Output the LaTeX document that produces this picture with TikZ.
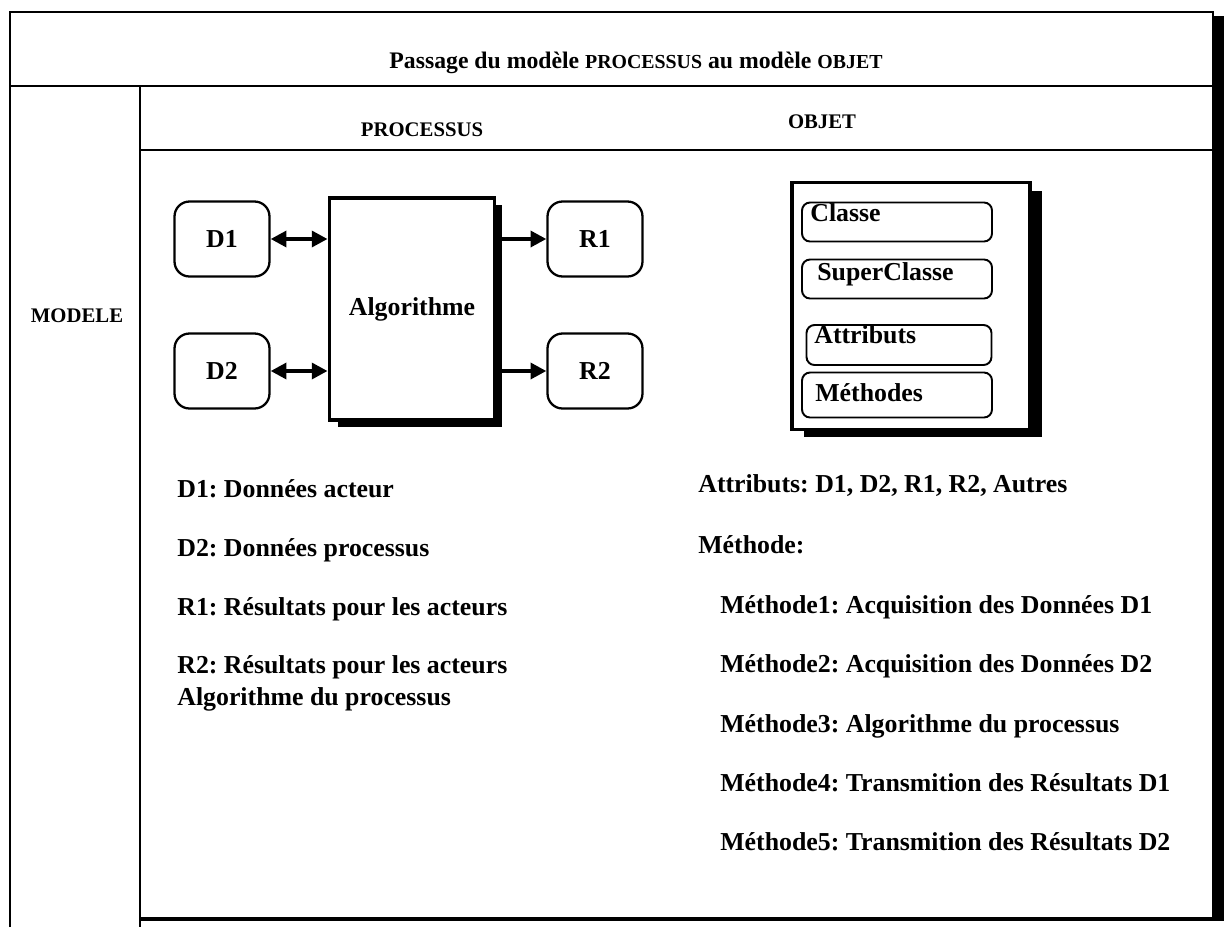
\documentclass[tikz,border=0pt]{standalone}
\usepackage{fontspec}
\setmainfont{Liberation Serif}
\usetikzlibrary{arrows.meta,shadows}
\frenchspacing

\newcommand{\titlecaps}[1]{{\fontsize{11.3}{13}\selectfont #1}}

\tikzset{
  txt/.style={inner sep=0pt, font=\bfseries\fontsize{14.7}{17}\selectfont},
  ttl/.style={inner sep=0pt, font=\bfseries\fontsize{13.5}{16}\selectfont},
  hdr/.style={inner sep=0pt, font=\bfseries\fontsize{11.8}{14}\selectfont},
  tline/.style={line width=1.2pt},
  rbox/.style={draw, line width=1.3pt, rounded corners=0.3cm, minimum width=1.9cm, minimum height=1.5cm, txt},
  slot/.style={draw, line width=1.1pt, rounded corners=0.16cm, minimum width=3.8cm, minimum height=0.78cm},
  link/.style={line width=2.2pt, -{Triangle[length=9pt,width=9pt]}},
  dlink/.style={line width=2.2pt, {Triangle[length=9pt,width=9pt]}-{Triangle[length=9pt,width=9pt]}},
}

\begin{document}
\begin{tikzpicture}[x=0.02cm,y=-0.02cm]
	\useasboundingbox (0,0) rectangle (1227,927);

	% table
	\fill (1213,16) rectangle (1224,921);
	\draw[tline] (10,927) -- (10,12) -- (1213,12) -- (1213,919);
	\draw[line width=2pt] (1213,919) -- (140,919);
	\draw[tline] (10,86) -- (1213,86);
	\draw[tline] (140,86) -- (140,927);
	\draw[tline] (140,150) -- (1213,150);

	\node[ttl, anchor=base] (title) at (636,68) {Passage du modèle \titlecaps{PROCESSUS} au modèle \titlecaps{OBJET}};
	\node[hdr, anchor=base] (hproc) at (422,136) {PROCESSUS};
	\node[hdr, anchor=base] (hobj) at (822,128) {OBJET};
	\node[hdr, anchor=base] (modele) at (77,322) {MODELE};

	% processus
	\node[rbox] (d1) at (222,239) {D1};
	\node[rbox] (d2) at (222,371) {D2};
	\node[rbox] (r1) at (595,239) {R1};
	\node[rbox] (r2) at (595,371) {R2};
	\node[draw, line width=2.2pt, fill=white, minimum width=3.3cm, minimum height=4.44cm, txt,
		drop shadow={shadow xshift=0.16cm, shadow yshift=-0.14cm, opacity=1, fill=black}] (alg) at (412,309) {Algorithme};

	\draw[dlink] (d1.east) -- (d1.east -| alg.west);
	\draw[dlink] (d2.east) -- (d2.east -| alg.west);
	\draw[link] (alg.east |- r1.west) -- (r1.west);
	\draw[link] (alg.east |- r2.west) -- (r2.west);

	% objet
	\node[draw, line width=2pt, fill=white, minimum width=4.76cm, minimum height=4.94cm,
		drop shadow={shadow xshift=0.24cm, shadow yshift=-0.16cm, opacity=1, fill=black}] (obj) at (911,306) {};
	\node[slot] (classe) at (897,222) {};
	\node[slot] (super) at (897,279) {};
	\node[slot, minimum width=3.7cm, minimum height=0.8cm] (attr) at (899,345) {};
	\node[slot, minimum height=0.9cm] (meth) at (897,395) {};
	\node[txt, anchor=west] (lclasse) at (810,213) {Classe};
	\node[txt, anchor=west] (lsuper) at (817,274) {SuperClasse};
	\node[txt, anchor=west] (lattr) at (814,335) {Attributs};
	\node[txt, anchor=west] (lmeth) at (815,393) {Méthodes};

	% legende processus
	\node[txt, anchor=base west] (t1) at (177,497) {D1: Données acteur};
	\node[txt, anchor=base west] (t2) at (177,556) {D2: Données processus};
	\node[txt, anchor=base west] (t3) at (177,615) {R1: Résultats pour les acteurs};
	\node[txt, anchor=base west] (t4) at (177,673) {R2: Résultats pour les acteurs};
	\node[txt, anchor=base west] (t5) at (177,705) {Algorithme du processus};

	% legende objet
	\node[txt, anchor=base west] (u1) at (698,492) {Attributs: D1, D2, R1, R2, Autres};
	\node[txt, anchor=base west] (u2) at (698,553) {Méthode:};
	\node[txt, anchor=base west] (m1) at (720,613) {Méthode1: Acquisition des Données D1};
	\node[txt, anchor=base west] (m2) at (720,672) {Méthode2: Acquisition des Données D2};
	\node[txt, anchor=base west] (m3) at (720,732) {Méthode3: Algorithme du processus};
	\node[txt, anchor=base west] (m4) at (720,791) {Méthode4: Transmition des Résultats D1};
	\node[txt, anchor=base west] (m5) at (720,850) {Méthode5: Transmition des Résultats D2};
\end{tikzpicture}
\end{document}
